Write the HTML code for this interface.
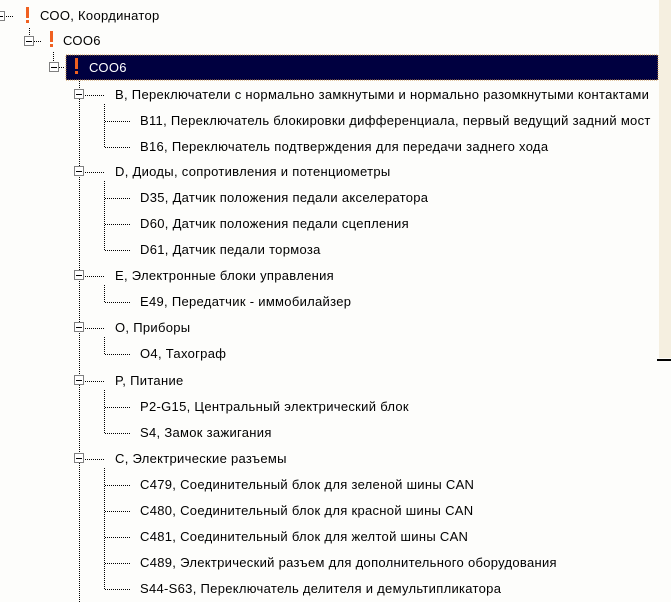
<!DOCTYPE html>
<html><head><meta charset="utf-8"><style>
body{margin:0;width:671px;height:602px;background:#fdfdfb;overflow:hidden;position:relative;font-family:"Liberation Sans","DejaVu Sans",sans-serif;font-size:13px;letter-spacing:0.3px;color:#000}
.t{position:absolute;white-space:nowrap;line-height:16px}
svg{position:absolute;left:0;top:0}
</style></head><body>
<svg width="671" height="602" shape-rendering="crispEdges">
<rect x="659" y="0" width="12" height="358" fill="#f5efe0"/>
<rect x="657" y="359" width="14" height="2" fill="#000"/>
<rect x="66" y="55" width="592" height="25" fill="#000040" stroke="#c89040" stroke-dasharray="1,1"/>
<g stroke="#000" stroke-dasharray="1,1" fill="none">
<line x1="6" y1="16.5" x2="14" y2="16.5"/>
<line x1="29.5" y1="28" x2="29.5" y2="36"/>
<line x1="34" y1="41.5" x2="41" y2="41.5"/>
<line x1="53.5" y1="52" x2="53.5" y2="62"/>
<line x1="59" y1="67.5" x2="65" y2="67.5"/>
<line x1="79.5" y1="81" x2="79.5" y2="602"/>
<path d="M85 95.5H105M85 172.5H105M85 276.5H105M85 328.5H105M85 381.5H105M85 459.5H105"/>
<line x1="104.5" y1="104" x2="104.5" y2="147"/>
<line x1="104.5" y1="181" x2="104.5" y2="250"/>
<line x1="104.5" y1="285" x2="104.5" y2="302"/>
<line x1="104.5" y1="337" x2="104.5" y2="354"/>
<line x1="104.5" y1="390" x2="104.5" y2="433"/>
<line x1="104.5" y1="468" x2="104.5" y2="589"/>
<path d="M105 121.5H131M105 147.5H131M105 198.5H131M105 224.5H131M105 250.5H131M105 302.5H131M105 354.5H131M105 407.5H131M105 433.5H131M105 485.5H131M105 511.5H131M105 537.5H131M105 563.5H131M105 589.5H131"/>
</g>
<g stroke="#808080" fill="#fff">
<rect x="-4.5" y="11.5" width="9" height="9"/>
<rect x="24.5" y="36.5" width="9" height="9"/>
<rect x="49.5" y="62.5" width="9" height="9"/>
<rect x="74.5" y="89.5" width="9" height="9"/>
<rect x="74.5" y="166.5" width="9" height="9"/>
<rect x="74.5" y="270.5" width="9" height="9"/>
<rect x="74.5" y="322.5" width="9" height="9"/>
<rect x="74.5" y="375.5" width="9" height="9"/>
<rect x="74.5" y="453.5" width="9" height="9"/>
</g>
<g stroke="#000">
<path d="M-2 16.5H3M26 41.5H32M51 67.5H57M76 94.5H82M76 171.5H82M76 275.5H82M76 327.5H82M76 380.5H82M76 458.5H82"/>
</g>
<g fill="#f06020">
<rect x="26" y="7" width="3" height="11"/><rect x="26" y="20" width="3" height="3"/>
<rect x="50" y="31" width="3" height="11"/><rect x="50" y="44" width="3" height="3"/>
<rect x="75" y="58" width="3" height="11"/><rect x="75" y="71" width="3" height="3"/>
</g>
</svg>
<div class="t" style="left:40px;top:8px">СОО, Координатор</div>
<div class="t" style="left:63px;top:33px">СОО6</div>
<div class="t" style="left:89px;top:60px;color:#fff">СОО6</div>
<div class="t" style="left:115px;top:87px">B, Переключатели с нормально замкнутыми и нормально разомкнутыми контактами</div>
<div class="t" style="left:140px;top:113px">B11, Переключатель блокировки дифференциала, первый ведущий задний мост</div>
<div class="t" style="left:140px;top:139px">B16, Переключатель подтверждения для передачи заднего хода</div>
<div class="t" style="left:115px;top:164px">D, Диоды, сопротивления и потенциометры</div>
<div class="t" style="left:140px;top:190px">D35, Датчик положения педали акселератора</div>
<div class="t" style="left:140px;top:216px">D60, Датчик положения педали сцепления</div>
<div class="t" style="left:140px;top:242px">D61, Датчик педали тормоза</div>
<div class="t" style="left:115px;top:268px">E, Электронные блоки управления</div>
<div class="t" style="left:140px;top:294px">E49, Передатчик - иммобилайзер</div>
<div class="t" style="left:115px;top:320px">O, Приборы</div>
<div class="t" style="left:140px;top:346px">O4, Тахограф</div>
<div class="t" style="left:115px;top:373px">P, Питание</div>
<div class="t" style="left:140px;top:399px">P2-G15, Центральный электрический блок</div>
<div class="t" style="left:140px;top:425px">S4, Замок зажигания</div>
<div class="t" style="left:115px;top:451px">C, Электрические разъемы</div>
<div class="t" style="left:140px;top:477px">C479, Соединительный блок для зеленой шины CAN</div>
<div class="t" style="left:140px;top:503px">C480, Соединительный блок для красной шины CAN</div>
<div class="t" style="left:140px;top:529px">C481, Соединительный блок для желтой шины CAN</div>
<div class="t" style="left:140px;top:555px">C489, Электрический разъем для дополнительного оборудования</div>
<div class="t" style="left:140px;top:581px">S44-S63, Переключатель делителя и демультипликатора</div>
</body></html>
